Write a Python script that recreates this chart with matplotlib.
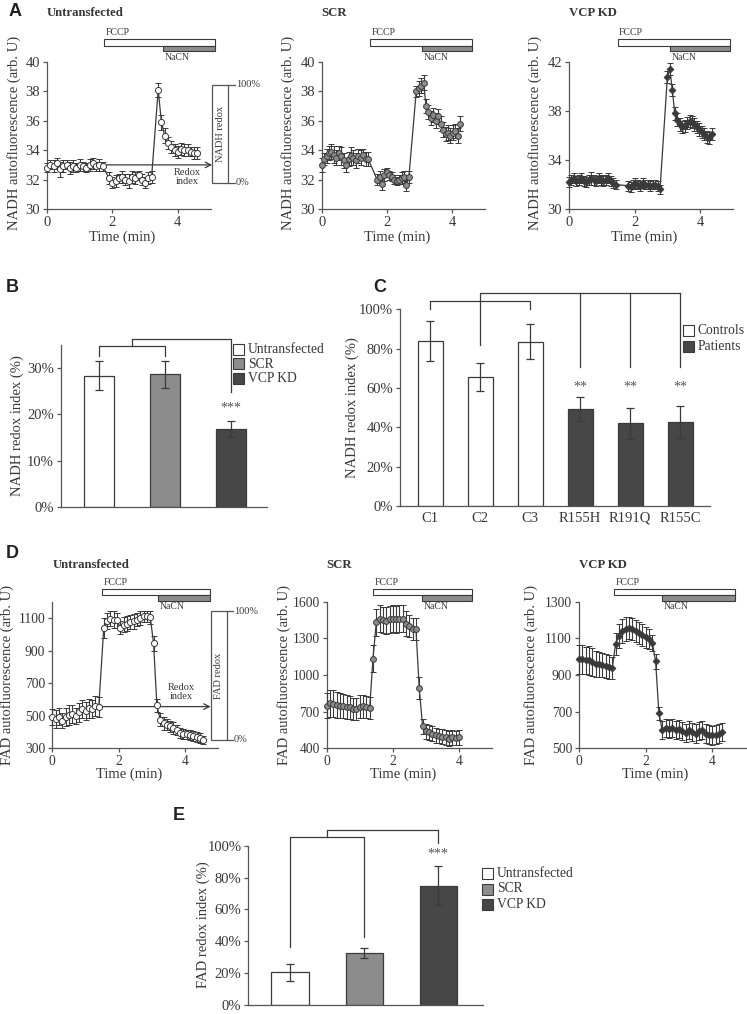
import numpy as np
import matplotlib
matplotlib.use("Agg")
import matplotlib.pyplot as plt
from matplotlib.patches import Rectangle
from matplotlib.ticker import PercentFormatter
from matplotlib.transforms import blended_transform_factory

plt.rcParams['font.family'] = ['Liberation Serif', 'DejaVu Serif']
plt.rcParams['font.size'] = 10


def grid(start, n, step):
    return [round(start + i * step, 3) for i in range(n)]


# ---- panel A: NADH traces ----
t_nadh_unt = grid(0, 18, 0.1) + grid(1.9, 14, 0.1) + grid(3.4, 13, 0.1)
nadh_unt = [32.8, 33.0, 32.9, 33.1, 32.7, 32.9, 33.0, 32.8, 32.9, 32.8, 33.0, 32.9, 32.8, 33.0, 33.1, 32.9, 33.0, 32.9,
            32.1, 31.8, 31.9, 32.1, 32.2, 32.0, 31.9, 32.2, 32.1, 32.3, 32.0, 31.8, 32.1, 32.2,
            38.1, 35.9, 35.0, 34.5, 34.2, 34.0, 33.9, 34.1, 34.0, 34.0, 33.9, 33.8, 33.8]
nadh_unt_err = [0.3, 0.3, 0.4, 0.4, 0.5, 0.4, 0.3, 0.4, 0.4, 0.3, 0.4, 0.3, 0.3, 0.4, 0.4, 0.3, 0.4, 0.3,
                0.4, 0.4, 0.4, 0.3, 0.4, 0.4, 0.5, 0.4, 0.4, 0.3, 0.4, 0.4, 0.4, 0.4,
                0.5, 0.5, 0.5, 0.4, 0.4, 0.4, 0.4, 0.4, 0.4, 0.4, 0.3, 0.4, 0.4]

t_nadh_scr = grid(0, 20, 0.075) + grid(1.7, 14, 0.075) + grid(2.9, 19, 0.075)
nadh_scr = [33.0, 33.4, 33.6, 33.8, 33.9, 33.7, 33.5, 33.8, 33.6, 33.3, 33.0, 33.4, 33.6, 33.5, 33.3, 33.6, 33.5, 33.7, 33.4, 33.4,
            32.0, 32.2, 31.7, 32.3, 32.5, 32.3, 32.2, 32.0, 31.9, 32.0, 32.1, 32.2, 31.6, 32.2,
            38.0, 38.2, 38.4, 38.6, 37.0, 36.6, 36.2, 36.4, 36.0, 36.3, 35.8, 35.4, 35.1, 35.2, 35.0, 35.2, 35.3, 35.0, 35.8]
nadh_scr_err = [0.5, 0.4, 0.5, 0.5, 0.5, 0.6, 0.5, 0.5, 0.6, 0.5, 0.5, 0.5, 0.6, 0.5, 0.5, 0.5, 0.5, 0.4, 0.5, 0.5,
                0.4, 0.4, 0.4, 0.4, 0.3, 0.3, 0.3, 0.3, 0.3, 0.3, 0.4, 0.4, 0.4, 0.4,
                0.4, 0.5, 0.5, 0.5, 0.5, 0.5, 0.5, 0.5, 0.5, 0.5, 0.5, 0.5, 0.5, 0.5, 0.5, 0.5, 0.5, 0.5, 0.5]

t_nadh_vcp = grid(0, 20, 0.075) + grid(1.8, 14, 0.075) + grid(3.0, 19, 0.075)
nadh_vcp = [32.2, 32.4, 32.5, 32.3, 32.4, 32.5, 32.3, 32.2, 32.4, 32.5, 32.4, 32.3, 32.5, 32.4, 32.3, 32.4, 32.5, 32.3, 32.1, 32.0,
            31.9, 31.8, 32.0, 32.1, 32.0, 31.9, 32.1, 32.0, 32.0, 31.9, 32.0, 32.0, 31.9, 31.6,
            40.8, 41.4, 39.7, 37.8, 37.3, 36.9, 36.7, 36.8, 37.0, 37.2, 37.1, 36.9, 36.7, 36.5, 36.3, 36.1, 35.9, 35.8, 36.1]
nadh_vcp_err = [0.4, 0.4, 0.4, 0.4, 0.4, 0.4, 0.4, 0.4, 0.4, 0.5, 0.4, 0.4, 0.4, 0.4, 0.4, 0.4, 0.4, 0.4, 0.4, 0.4,
                0.4, 0.4, 0.4, 0.4, 0.4, 0.4, 0.4, 0.4, 0.4, 0.4, 0.4, 0.4, 0.4, 0.4,
                0.5, 0.5, 0.5, 0.5, 0.5, 0.5, 0.5, 0.5, 0.5, 0.5, 0.5, 0.5, 0.5, 0.5, 0.5, 0.5, 0.5, 0.5, 0.5]

# ---- panel D: FAD traces ----
t_fad_unt = grid(0, 15, 0.1) + grid(1.55, 31, 0.1)
fad_unt = [490, 480, 495, 470, 490, 505, 510, 500, 520, 540, 530, 545, 540, 560, 555,
           1038, 1080, 1095, 1090, 1085, 1040, 1060, 1065, 1075, 1080, 1090, 1100, 1110, 1110, 1105,
           945, 565, 475, 455, 445, 435, 425, 410, 395, 390, 385, 380, 375, 370, 365, 352]
fad_unt_err = [50, 55, 50, 45, 55, 60, 55, 50, 60, 55, 55, 60, 55, 60, 60,
               60, 50, 45, 50, 45, 40, 45, 45, 45, 45, 40, 40, 35, 35, 40,
               45, 40, 40, 40, 35, 35, 35, 30, 30, 30, 30, 30, 30, 30, 30, 25]

t_fad_scr = grid(0, 14, 0.1) + grid(1.4, 27, 0.1)
fad_scr = [750, 770, 765, 755, 750, 745, 740, 735, 725, 720, 740, 745, 740, 730,
           1135, 1430, 1460, 1450, 1445, 1455, 1460, 1455, 1460, 1460, 1420, 1400, 1380, 1375,
           890, 580, 540, 530, 520, 505, 500, 495, 490, 480, 490, 485, 490]
fad_scr_err = [105, 110, 110, 105, 100, 100, 100, 95, 90, 90, 95, 95, 90, 90,
               110, 110, 110, 110, 110, 110, 110, 110, 110, 110, 100, 90, 90, 90,
               90, 60, 60, 60, 60, 60, 60, 60, 60, 60, 60, 60, 60]

t_fad_vcp = grid(0, 44, 0.1)
fad_vcp = [985, 985, 980, 980, 970, 960, 958, 955, 950, 945, 940,
           1070, 1115, 1140, 1150, 1155, 1150, 1140, 1130, 1120, 1105, 1095, 1075,
           975, 690, 600, 610, 605, 610, 600, 605, 595, 585, 600, 590, 580, 595, 600, 580, 575, 570, 575, 580, 590]
fad_vcp_err = [80, 80, 75, 80, 75, 70, 70, 65, 65, 65, 60,
               60, 65, 65, 65, 60, 60, 60, 60, 60, 55, 55, 45,
               40, 35, 50, 50, 50, 50, 50, 50, 50, 50, 50, 50, 50, 50, 50, 50, 50, 50, 50, 50, 50]

# ---- bar panels ----
groups = ['Untransfected', 'SCR', 'VCP KD']
nadh_idx = [28.4, 28.7, 16.8]
nadh_idx_err = [3.1, 2.9, 1.7]
lines = ['C1', 'C2', 'C3', 'R155H', 'R191Q', 'R155C']
line_kind = ['Controls', 'Controls', 'Controls', 'Patients', 'Patients', 'Patients']
line_idx = [84.1, 65.8, 83.6, 49.2, 42.1, 42.7]
line_idx_err = [10.2, 7.1, 9.0, 6.1, 7.9, 8.2]
fad_idx = [20.5, 32.5, 75.0]
fad_idx_err = [5.3, 3.0, 12.4]

W, H = 747, 1014
LINE = '#3a3a3a'
AXC = '#555555'
TXT = '#383838'
GREY = '#8c8c8c'
DARKBAR = '#474747'
FS = 10.5
group_col = ['white', GREY, DARKBAR]
kind_col = {'Controls': 'white', 'Patients': DARKBAR}

fig = plt.figure(figsize=(W / 100, H / 100), dpi=100)


def box(x0, x1, ytop, ybot):
    return fig.add_axes([x0 / W, 1 - ybot / H, (x1 - x0) / W, (ybot - ytop) / H])


def ftext(x, y, s, **kw):
    kw.setdefault('color', TXT)
    fig.text(x / W, 1 - y / H, s, **kw)


def clean(ax, size=FS):
    ax.spines[['top', 'right']].set_visible(False)
    ax.spines[['left', 'bottom']].set_color(AXC)
    ax.spines[['left', 'bottom']].set_linewidth(0.9)
    ax.tick_params(colors=AXC, labelcolor=TXT, length=3, width=0.9, labelsize=size, pad=2)


def trace(ax, t, y, e, marker, face, size):
    ax.errorbar(t, y, yerr=e, color=LINE, lw=0.9, elinewidth=0.8, capsize=2.2, capthick=0.8,
                marker=marker, ms=size, mfc=face, mec=LINE, mew=0.7, clip_on=False, zorder=3)


def drugs(ax, fccp, nacn, end, ys, ty):
    tr = blended_transform_factory(ax.transData, ax.transAxes)
    ax.add_patch(Rectangle((fccp, ys[1]), end - fccp, ys[0] - ys[1], transform=tr, clip_on=False,
                           fc='white', ec=LINE, lw=0.8))
    ax.add_patch(Rectangle((nacn, ys[2]), end - nacn, ys[1] - ys[2], transform=tr, clip_on=False,
                           fc=GREY, ec=LINE, lw=0.8))
    ax.text(fccp + 0.05, ty[0], 'FCCP', transform=tr, fontsize=7, color=TXT, va='center')
    ax.text(nacn + 0.05, ty[1], 'NaCN', transform=tr, fontsize=7, color=TXT, va='center')


def redox(ax, x0, x1, lo, hi, label, ext):
    ax.add_patch(Rectangle((x0, lo), x1 - x0, hi - lo, fill=False, ec=AXC, lw=0.9, clip_on=False))
    for yv, s in [(hi, '100%'), (lo, '0%')]:
        ax.plot([x1, x1 + ext], [yv, yv], color=AXC, lw=0.9, clip_on=False)
        ax.text(x1 + ext * 1.1, yv, s, fontsize=7.5, color=TXT, va='center')
    ax.text((x0 + x1) / 2, (lo + hi) / 2, label, rotation=90, ha='center', va='center', fontsize=7.5, color=TXT)


def bracket(ax, xs, ys):
    ax.plot(xs, ys, color=LINE, lw=0.9, clip_on=False)


def keybox(x, ys, labels, colors):
    for y, lab, c in zip(ys, labels, colors):
        fig.add_artist(Rectangle((x / W, 1 - (y + 5.5) / H), 11 / W, 11 / H, transform=fig.transFigure,
                                 fc=c, ec=LINE, lw=0.8))
        ftext(x + 15, y, lab, va='center', fontsize=9.8)


def trace_panel(xpx, ytop, ybot, t, y, e, marker, face, size, ylim, yticks, title, title_y, xlab_y, tsize=FS):
    ax = box(xpx[0], xpx[1], ytop, ybot)
    clean(ax, tsize)
    trace(ax, t, y, e, marker, face, size)
    ax.set_xlim(0, 5)
    ax.set_ylim(*ylim)
    ax.set_xticks([0, 2, 4])
    ax.set_yticks(yticks)
    ax.text(0, title_y, title, transform=ax.transAxes, fontweight='bold', fontsize=9.2, color=TXT,
            ha='left', va='center')
    tr = blended_transform_factory(ax.transData, ax.transAxes)
    ax.text(2.3, xlab_y, 'Time (min)', transform=tr, ha='center', va='center', fontsize=FS, color=TXT)
    return ax


# ---- A ----
a_top, a_bot = 62, 209
a1 = trace_panel((47, 210.5), a_top, a_bot, t_nadh_unt, nadh_unt, nadh_unt_err, 'o', 'white', 4.4,
                 (30, 40), [30, 32, 34, 36, 38, 40], 'Untransfected', 1.333, -0.19)
a2 = trace_panel((321.7, 484.7), a_top, a_bot, t_nadh_scr, nadh_scr, nadh_scr_err, 'o', GREY, 4.2,
                 (30, 40), [30, 32, 34, 36, 38, 40], 'SCR', 1.333, -0.19)
a3 = trace_panel((569, 733), a_top, a_bot, t_nadh_vcp, nadh_vcp, nadh_vcp_err, 'D', LINE, 3.4,
                 (30, 42), [30, 34, 38, 42], 'VCP KD', 1.333, -0.19)
a_ys, a_ty = (1.156, 1.109, 1.075), (1.204, 1.034)
drugs(a1, 1.74, 3.55, 5.14, a_ys, a_ty)
drugs(a2, 1.48, 3.07, 4.62, a_ys, a_ty)
drugs(a3, 1.48, 3.08, 4.91, a_ys, a_ty)
redox(a1, 5.05, 5.54, 31.77, 38.44, 'NADH redox', 0.21)
a1.annotate('', xy=(5.05, 33.0), xytext=(1.75, 33.0), annotation_clip=False,
            arrowprops=dict(arrowstyle='->', color=LINE, lw=0.9, shrinkA=0, shrinkB=0))
a1.text(4.28, 32.15, 'Redox\nindex', ha='center', va='center', fontsize=7.5, color=TXT, linespacing=1.0)
for xc in [14, 288, 535]:
    ftext(xc, 133, 'NADH autofluorescence (arb. U)', rotation=90, ha='center', va='center', fontsize=FS)

# ---- B ----
axB = box(61, 267, 345, 507)
clean(axB)
xb = np.arange(len(groups))
axB.bar(xb, nadh_idx, 0.45, color=group_col, edgecolor=LINE, lw=0.9, yerr=nadh_idx_err, capsize=3,
        error_kw=dict(ecolor=LINE, elinewidth=0.9, capthick=0.9))
axB.set_xlim(-0.576, 2.545)
axB.set_ylim(0, 35)
axB.set_yticks([0, 10, 20, 30])
axB.yaxis.set_major_formatter(PercentFormatter(100, decimals=0))
axB.tick_params(axis='x', length=0, labelbottom=False)
bracket(axB, [0, 0, 1, 1], [32.6, 34.7, 34.7, 32.6])
bracket(axB, [0.5, 0.5, 2, 2], [34.7, 36.2, 36.2, 24.9])
axB.text(2, 21.3, '***', ha='center', va='center', fontsize=10, color=AXC)
ftext(17, 426, 'NADH redox index (%)', rotation=90, ha='center', va='center', fontsize=FS)
keybox(233, [349.5, 364, 378], groups, group_col)

# ---- C ----
axC = box(400, 710, 309.3, 506)
clean(axC)
xc_ = np.arange(len(lines))
axC.bar(xc_, line_idx, 0.5, color=[kind_col[k] for k in line_kind], edgecolor=LINE, lw=0.9,
        yerr=line_idx_err, capsize=3, error_kw=dict(ecolor=LINE, elinewidth=0.9, capthick=0.9))
axC.set_xlim(-0.6, 5.6)
axC.set_ylim(0, 100)
axC.set_yticks([0, 20, 40, 60, 80, 100])
axC.yaxis.set_major_formatter(PercentFormatter(100, decimals=0))
axC.set_xticks(xc_)
axC.set_xticklabels(lines)
axC.tick_params(axis='x', length=0, pad=4)
bracket(axC, [0, 0, 2, 2], [100, 104, 104, 100])
bracket(axC, [1, 1, 5], [82, 108.5, 108.5])
for i in [3, 4, 5]:
    bracket(axC, [i, i], [108.5, 70.6])
    axC.text(i, 60.7, '**', ha='center', va='center', fontsize=10, color=AXC)
ftext(352, 408, 'NADH redox index (%)', rotation=90, ha='center', va='center', fontsize=FS)
keybox(683, [330, 346], ['Controls', 'Patients'], [kind_col['Controls'], kind_col['Patients']])

# ---- D ----
d_top, d_bot = 601.7, 748.3
d1 = trace_panel((52.3, 218.3), d_top, d_bot, t_fad_unt, fad_unt, fad_unt_err, 'o', 'white', 4.4,
                 (300, 1200), [300, 500, 700, 900, 1100], 'Untransfected', 1.25, -0.175, 9.8)
d2 = trace_panel((326.7, 492), d_top, d_bot, t_fad_scr, fad_scr, fad_scr_err, 'o', GREY, 4.2,
                 (400, 1600), [400, 700, 1000, 1300, 1600], 'SCR', 1.25, -0.175, 9.8)
d3 = trace_panel((579, 745.5), d_top, d_bot, t_fad_vcp, fad_vcp, fad_vcp_err, 'D', LINE, 3.4,
                 (500, 1300), [500, 700, 900, 1100, 1300], 'VCP KD', 1.25, -0.175, 9.8)
d_ys, d_ty = (1.087, 1.046, 1.007), (1.128, 0.97)
drugs(d1, 1.5, 3.17, 4.75, d_ys, d_ty)
drugs(d2, 1.41, 2.87, 4.4, d_ys, d_ty)
drugs(d3, 1.06, 2.48, 4.67, d_ys, d_ty)
redox(d1, 4.77, 5.25, 351, 1141, 'FAD redox', 0.2)
d1.annotate('', xy=(4.77, 556), xytext=(1.5, 556), annotation_clip=False,
            arrowprops=dict(arrowstyle='->', color=LINE, lw=0.9, shrinkA=0, shrinkB=0))
d1.text(3.9, 646, 'Redox\nindex', ha='center', va='center', fontsize=7.5, color=TXT, linespacing=1.0)
for xc in [7, 284, 531]:
    ftext(xc, 675, 'FAD autofluorescence (arb. U)', rotation=90, ha='center', va='center', fontsize=FS)

# ---- E ----
axE = box(248.3, 483.3, 845.7, 1005)
clean(axE)
xe = np.arange(len(groups))
axE.bar(xe, fad_idx, 0.5, color=group_col, edgecolor=LINE, lw=0.9, yerr=fad_idx_err, capsize=3,
        error_kw=dict(ecolor=LINE, elinewidth=0.9, capthick=0.9))
axE.set_xlim(-0.563, 2.61)
axE.set_ylim(0, 100)
axE.set_yticks([0, 20, 40, 60, 80, 100])
axE.yaxis.set_major_formatter(PercentFormatter(100, decimals=0))
axE.tick_params(axis='x', length=0, labelbottom=False)
bracket(axE, [0, 0, 1, 1], [36.6, 105.2, 105.2, 42.9])
bracket(axE, [0.5, 0.5, 2, 2], [105.2, 110, 110, 102])
axE.text(2, 94.5, '***', ha='center', va='center', fontsize=10, color=AXC)
ftext(203, 925, 'FAD redox index (%)', rotation=90, ha='center', va='center', fontsize=FS)
keybox(481.7, [873.5, 889, 904], groups, group_col)

# panel letters
for s, x, y in [('A', 15, 12), ('B', 12, 288), ('C', 380, 288), ('D', 12, 553), ('E', 179, 816)]:
    ftext(x, y, s, fontsize=13, fontweight='bold', family=['Liberation Sans', 'DejaVu Sans'],
          ha='center', va='center', color='#222222')

fig.savefig('out.png', dpi=100)
